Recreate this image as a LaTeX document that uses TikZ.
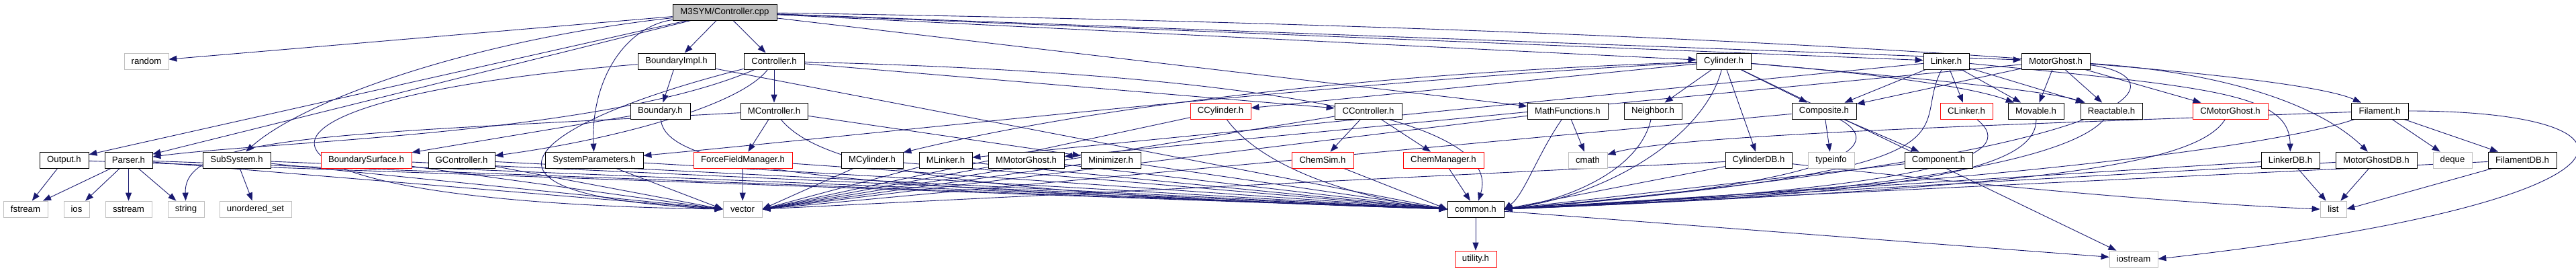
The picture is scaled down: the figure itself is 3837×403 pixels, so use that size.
\documentclass[tikz,border=0pt]{standalone}
\usepackage{fontspec}
\setmainfont{Liberation Sans}
\usetikzlibrary{arrows.meta,backgrounds}
\definecolor{edgec}{HTML}{191970}
\definecolor{grayb}{HTML}{BFBFBF}
\begin{document}
\begin{tikzpicture}[x=1pt,y=-1pt,
  box/.style={draw=black, fill=white, line width=0.8pt, minimum height=24pt, inner sep=0pt, font=\fontsize{13.2}{15}\selectfont, text=black},
  gbox/.style={box, draw=grayb},
  rbox/.style={box, draw=red},
  wd/.style={minimum width=#1},
  dep/.style={draw=edgec, line width=0.9pt, -{Triangle[length=12pt,width=9pt]}}]
\useasboundingbox (0,0) rectangle (3837,403);
% row 0
\node[box,fill=grayb,wd=155pt] (cpp) at (1079.5,18) {M3SYM/Controller.cpp};
% row 1
\node[gbox,wd=66pt] (random) at (218,91) {random};
\node[box,wd=115pt] (BoundaryImpl) at (1007.5,91) {BoundaryImpl.h};
\node[box,wd=90pt] (Controller) at (1153,91) {Controller.h};
\node[box,wd=81pt] (Cylinder) at (2567.5,91) {Cylinder.h};
\node[box,wd=68pt] (Linker) at (2899,91) {Linker.h};
\node[box,wd=102pt] (MotorGhost) at (3062,91) {MotorGhost.h};
% row 2
\node[box,wd=89pt] (Boundary) at (983.5,165) {Boundary.h};
\node[box,wd=100pt] (MController) at (1153,165) {MController.h};
\node[rbox,wd=90pt] (CCylinder) at (1818,165) {CCylinder.h};
\node[box,wd=100pt] (CController) at (2038,165) {CController.h};
\node[box,wd=120pt] (MathFunctions) at (2335,165) {MathFunctions.h};
\node[box,wd=86pt] (Neighbor) at (2462,165) {Neighbor.h};
\node[box,wd=96pt] (Composite) at (2717,165) {Composite.h};
\node[rbox,wd=78pt] (CLinker) at (2929,165) {CLinker.h};
\node[box,wd=83pt] (Movable) at (3032.5,165) {Movable.h};
\node[box,wd=92pt] (Reactable) at (3145,165) {Reactable.h};
\node[rbox,wd=112pt] (CMotorGhost) at (3322,165) {CMotorGhost.h};
\node[box,wd=85pt] (Filament) at (3544.5,165) {Filament.h};
% row 3
\node[box,wd=73pt] (Output) at (95.5,238) {Output.h};
\node[box,wd=71pt] (Parser) at (191.5,238) {Parser.h};
\node[box,wd=101pt] (SubSystem) at (352.5,238) {SubSystem.h};
\node[rbox,wd=135pt] (BoundarySurface) at (545.5,238) {BoundarySurface.h};
\node[box,wd=99pt] (GController) at (687.5,238) {GController.h};
\node[box,wd=146pt] (SystemParameters) at (885,238) {SystemParameters.h};
\node[rbox,wd=147pt] (ForceFieldManager) at (1106.5,238) {ForceFieldManager.h};
\node[box,wd=92pt] (MCylinder) at (1299,238) {MCylinder.h};
\node[box,wd=79pt] (MLinker) at (1408.5,238) {MLinker.h};
\node[box,wd=113pt] (MMotorGhost) at (1528.5,238) {MMotorGhost.h};
\node[box,wd=89pt] (Minimizer) at (1654.5,238) {Minimizer.h};
\node[rbox,wd=92pt] (ChemSim) at (1970,238) {ChemSim.h};
\node[rbox,wd=120pt] (ChemManager) at (2150,238) {ChemManager.h};
\node[gbox,wd=58pt] (cmath) at (2365,238) {cmath};
\node[box,wd=99pt] (CylinderDB) at (2619.5,238) {CylinderDB.h};
\node[gbox,wd=69pt] (typeinfo) at (2727.5,238) {typeinfo};
\node[box,wd=101pt] (Component) at (2887.5,238) {Component.h};
\node[box,wd=87pt] (LinkerDB) at (3411.5,238) {LinkerDB.h};
\node[box,wd=121pt] (MotorGhostDB) at (3539.5,238) {MotorGhostDB.h};
\node[gbox,wd=58pt] (deque) at (3653,238) {deque};
\node[box,wd=102pt] (FilamentDB) at (3757,238) {FilamentDB.h};
% row 4
\node[gbox,wd=66pt] (fstream) at (38,311) {fstream};
\node[gbox,wd=38pt] (ios) at (114,311) {ios};
\node[gbox,wd=69pt] (sstream) at (191.5,311) {sstream};
\node[gbox,wd=54pt] (string) at (277,311) {string};
\node[gbox,wd=107pt] (uset) at (380.5,311) {unordered\_set};
\node[gbox,wd=58pt] (vector) at (1106,311) {vector};
\node[box,wd=84pt] (common) at (2198,311) {common.h};
\node[gbox,wd=39pt] (list) at (3475.5,311) {list};
% row 5
\node[rbox,wd=62pt] (utility) at (2198,385) {utility.h};
\node[gbox,wd=72pt] (iostream) at (3178,385) {iostream};

\begin{pgfonlayer}{background}
\fill[white] (0,0) rectangle (3837,403);
% Controller.cpp
\draw[dep] (cpp) -- (random);
\draw[dep] (cpp) -- (Output);
\draw[dep] (cpp) -- (Parser);
\draw[dep] (cpp) .. controls (700,60) and (450,150) .. (SubSystem);
\draw[dep] (cpp) .. controls (930,40) and (880,120) .. (SystemParameters);
\draw[dep] (cpp) -- (BoundaryImpl);
\draw[dep] (cpp) -- (Controller);
\draw[dep] (cpp) -- (Cylinder);
\draw[dep] (cpp) -- (Linker);
\draw[dep] (cpp) -- (MotorGhost);
\draw[dep] (cpp) .. controls (2500,40) and (3400,100) .. (Filament);
\draw[dep] (cpp) -- (MathFunctions);
% BoundaryImpl
\draw[dep] (BoundaryImpl) -- (Boundary);
\draw[dep] (BoundaryImpl) .. controls (280,150) and (300,300) .. (vector.west);
\draw[dep] (BoundaryImpl) -- (common.west);
% Controller.h
\draw[dep] (Controller) -- (MController);
\draw[dep] (Controller) .. controls (1100,160) and (900,210) .. (GController);
\draw[dep] (Controller) .. controls (800,180) and (640,290) .. (vector.west);
\draw[dep] (Controller) .. controls (900,200) and (400,210) .. (Parser);
\draw[dep] (Controller) -- (CController);
\draw[dep] (Controller) .. controls (1900,110) and (2240,180) .. (common);
% MController
\draw[dep] (MController) -- (ForceFieldManager);
\draw[dep] (MController) -- (Minimizer);
\draw[dep] (MController) .. controls (1230,260) and (1500,290) .. (common.west);
\draw[dep] (MController) .. controls (500,200) and (273,200) .. (string);
% Boundary
\draw[dep] (Boundary) -- (BoundarySurface);
\draw[dep] (Boundary) .. controls (990,260) and (1300,280) .. (common.west);
% CCylinder
\draw[dep] (CCylinder) -- (vector.east);
\draw[dep] (CCylinder) .. controls (1880,250) and (2020,295) .. (common.west);
% CController
\draw[dep] (CController) -- (ChemSim);
\draw[dep] (CController) -- (ChemManager);
\draw[dep] (CController) -- (vector.east);
% MathFunctions
\draw[dep] (MathFunctions) -- (cmath);
\draw[dep] (MathFunctions) .. controls (2290,230) and (2270,290) .. (common.east);
\draw[dep] (MathFunctions) -- (vector.east);
% Neighbor
\draw[dep] (Neighbor) .. controls (2440,260) and (2320,300) .. (common.east);
% Cylinder
\draw[dep] (Cylinder) -- (CCylinder);
\draw[dep] (Cylinder) .. controls (2000,110) and (1600,165) .. (MCylinder);
\draw[dep] (Cylinder) .. controls (2000,120) and (1300,200) .. (SystemParameters);
\draw[dep] (Cylinder) -- (Neighbor);
\draw[dep] (Cylinder) -- (Composite);
\draw[dep] (Cylinder) -- (CylinderDB);
\draw[dep] (Cylinder) .. controls (2800,110) and (2940,130) .. (Movable);
\draw[dep] (Cylinder) .. controls (2850,115) and (3050,135) .. (Reactable);
\draw[dep] (Cylinder) .. controls (2540,200) and (2400,290) .. (common.east);
\draw[dep] (Cylinder) -- (iostream);
% Linker
\draw[dep] (Linker) -- (CLinker);
\draw[dep] (Linker) -- (Composite);
\draw[dep] (Linker) -- (Movable);
\draw[dep] (Linker) -- (Reactable);
\draw[dep] (Linker) -- (MLinker);
\draw[dep] (Linker) .. controls (3300,130) and (3410,140) .. (LinkerDB);
\draw[dep] (Linker) .. controls (2840,200) and (2990,250) .. (common.east);
% MotorGhost
\draw[dep] (MotorGhost) -- (CMotorGhost);
\draw[dep] (MotorGhost) -- (Movable);
\draw[dep] (MotorGhost) -- (Reactable);
\draw[dep] (MotorGhost) -- (Composite);
\draw[dep] (MotorGhost) -- (MMotorGhost);
\draw[dep] (MotorGhost) .. controls (3350,110) and (3470,170) .. (MotorGhostDB);
\draw[dep] (MotorGhost) .. controls (3230,110) and (3280,220) .. (common.east);
% Composite
\draw[dep] (Composite) -- (typeinfo);
\draw[dep] (Composite) -- (Component);
\draw[dep] (Composite) .. controls (2800,210) and (2790,270) .. (common.east);
\draw[dep] (Composite) -- (vector.east);
% row 2 right to common
\draw[dep] (CLinker) .. controls (3010,230) and (2900,280) .. (common.east);
\draw[dep] (Movable) .. controls (3035,260) and (2800,290) .. (common.east);
\draw[dep] (Reactable) .. controls (3080,240) and (2800,290) .. (common.east);
\draw[dep] (CMotorGhost) .. controls (3270,250) and (3000,280) .. (common.east);
% Filament
\draw[dep] (Filament) -- (deque);
\draw[dep] (Filament) -- (FilamentDB);
\draw[dep] (Filament) .. controls (3000,185) and (2500,200) .. (cmath);
\draw[dep] (Filament) .. controls (3350,230) and (2800,280) .. (common.east);
\draw[dep] (Filament.east) .. controls (3970,165) and (3970,300) .. (iostream.east);
% DB
\draw[dep] (CylinderDB) -- (vector.east);
\draw[dep] (CylinderDB) -- (common.east);
\draw[dep] (CylinderDB) .. controls (2900,270) and (3200,300) .. (list.west);
\draw[dep] (LinkerDB) -- (list);
\draw[dep] (LinkerDB) -- (common.east);
\draw[dep] (MotorGhostDB) -- (list);
\draw[dep] (MotorGhostDB) -- (common.east);
\draw[dep] (FilamentDB) -- (list.east);
\draw[dep] (FilamentDB) -- (common.east);
\draw[dep] (Component) -- (common.east);
% row 3 left
\draw[dep] (Output) -- (fstream);
\draw[dep] (Output) -- (common.west);
\draw[dep] (Parser) -- (fstream);
\draw[dep] (Parser) -- (ios);
\draw[dep] (Parser) -- (sstream);
\draw[dep] (Parser) -- (string);
\draw[dep] (Parser) -- (vector.west);
\draw[dep] (Parser) -- (common.west);
\draw[dep] (SubSystem) -- (uset);
\draw[dep] (SubSystem) -- (vector.west);
\draw[dep] (SubSystem) -- (common.west);
\draw[dep] (BoundarySurface) -- (vector.west);
\draw[dep] (BoundarySurface) -- (common.west);
\draw[dep] (GController) -- (vector.west);
\draw[dep] (GController) -- (common.west);
\draw[dep] (SystemParameters) -- (vector.west);
\draw[dep] (SystemParameters) -- (common.west);
\draw[dep] (ForceFieldManager) -- (vector);
\draw[dep] (ForceFieldManager) -- (common.west);
\draw[dep] (MCylinder) -- (vector.east);
\draw[dep] (MCylinder) -- (common.west);
\draw[dep] (MLinker) -- (vector.east);
\draw[dep] (MLinker) -- (common.west);
\draw[dep] (MMotorGhost) -- (vector.east);
\draw[dep] (MMotorGhost) -- (common.west);
\draw[dep] (Minimizer) -- (vector.east);
\draw[dep] (Minimizer) -- (common.west);
\draw[dep] (ChemSim) -- (common.west);
\draw[dep] (ChemManager) -- (common);
% common
\draw[dep] (common) -- (utility);
\draw[dep] (common) -- (iostream);
\end{pgfonlayer}
\end{tikzpicture}
\end{document}
